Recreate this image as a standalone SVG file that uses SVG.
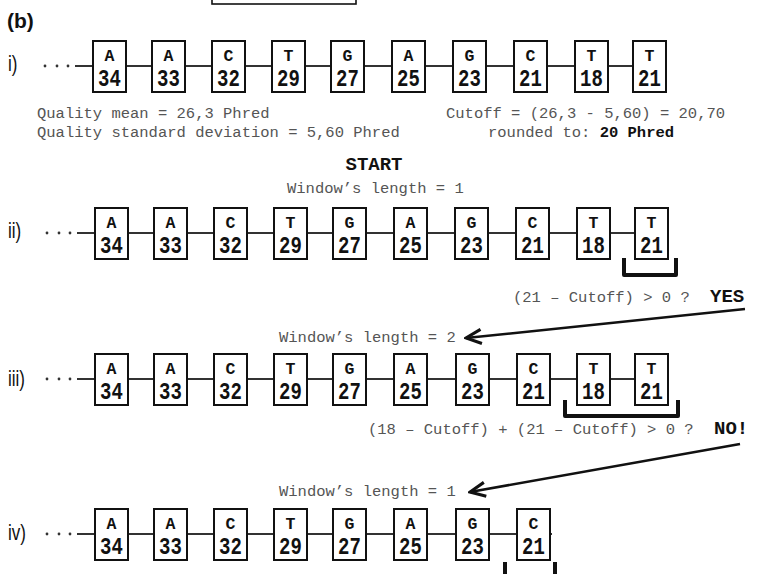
<svg xmlns="http://www.w3.org/2000/svg" width="757" height="574" viewBox="0 0 757 574">
<style>
.bg{fill:#fff}
.box rect{fill:#fff;stroke:#111;stroke-width:2}
.l{font-family:"Liberation Mono","Courier New",monospace;font-weight:bold;font-size:16.5px;fill:#111;text-anchor:middle}
.n{font-family:"Liberation Mono","Courier New",monospace;font-weight:bold;font-size:19px;fill:#111;text-anchor:middle}
.lab{font-family:"Liberation Sans",Arial,sans-serif;font-size:17px;fill:#111}
.m{font-family:"Liberation Mono","Courier New",monospace;font-size:15.5px;fill:#555;white-space:pre}
.mb{font-family:"Liberation Mono","Courier New",monospace;font-size:15.5px;font-weight:bold;fill:#111}
.big{font-family:"Liberation Mono","Courier New",monospace;font-size:19px;font-weight:bold;fill:#111}
.seq{stroke:#333;stroke-width:2.2;fill:none}
.dot{fill:#333}
.arr{stroke:#111;stroke-width:2.5;fill:none;marker-end:url(#chev)}
.brk{stroke:#111;stroke-width:4;fill:none;stroke-linejoin:round}
</style>
<defs>
<marker id="chev" markerUnits="userSpaceOnUse" markerWidth="20" markerHeight="20" viewBox="-15 -8 17 16" refX="0" refY="0" orient="auto">
<path d="M-13,-6 L0,0 L-13,6" fill="none" stroke="#111" stroke-width="2.6" stroke-linejoin="miter"/>
</marker>
</defs>
<rect class="bg" x="0" y="0" width="757" height="574"/>

<g id="topbox"><rect x="212" y="-10" width="144" height="14" fill="#fff" stroke="#111" stroke-width="1.6"/></g>
<text id="panel" x="7" y="28" font-family="'Liberation Sans',Arial,sans-serif" font-size="21" font-weight="bold" fill="#111">(b)</text>

<g id="labels">
<text class="lab" transform="translate(8,71) scale(1,1.3)">i)</text>
<text class="lab" transform="translate(8,238) scale(1,1.3)">ii)</text>
<text class="lab" transform="translate(8,386) scale(1,1.3)">iii)</text>
<text class="lab" transform="translate(8,540) scale(1,1.3)">iv)</text>
</g>

<g id="connectors">
<line class="seq" x1="75" y1="66" x2="660" y2="66"/>
<line class="seq" x1="77" y1="233" x2="662" y2="233"/>
<line class="seq" x1="77" y1="379" x2="662" y2="379"/>
<line class="seq" x1="77" y1="534" x2="552" y2="534"/>
<g class="dot">
<circle cx="45" cy="66" r="1.4"/><circle cx="57" cy="66" r="1.4"/><circle cx="68" cy="66" r="1.4"/>
<circle cx="47" cy="233" r="1.4"/><circle cx="59" cy="233" r="1.4"/><circle cx="70" cy="233" r="1.4"/>
<circle cx="47" cy="379" r="1.4"/><circle cx="59" cy="379" r="1.4"/><circle cx="70" cy="379" r="1.4"/>
<circle cx="47" cy="534" r="1.4"/><circle cx="59" cy="534" r="1.4"/><circle cx="70" cy="534" r="1.4"/>
</g>
<path class="brk" d="M624,258 V275 H676 V258"/>
<path class="brk" d="M565,400 V416 H678 V400"/>
<path class="brk" d="M505,562 V592 H555 V562"/>
<line class="arr" x1="745" y1="309" x2="466" y2="338"/>
<line class="arr" x1="740" y1="444" x2="470" y2="492"/>
</g>

<g id="r1">
<g id="r1n1" class="box" transform="translate(93,41)"><rect width="33" height="51"/><text class="l" x="16.5" y="19.5">A</text><text class="n" transform="translate(16.5,44.5) scale(1,1.22)">34</text></g>
<g id="r1n2" class="box" transform="translate(152,41)"><rect width="33" height="51"/><text class="l" x="16.5" y="19.5">A</text><text class="n" transform="translate(16.5,44.5) scale(1,1.22)">33</text></g>
<g id="r1n3" class="box" transform="translate(212,41)"><rect width="33" height="51"/><text class="l" x="16.5" y="19.5">C</text><text class="n" transform="translate(16.5,44.5) scale(1,1.22)">32</text></g>
<g id="r1n4" class="box" transform="translate(272,41)"><rect width="33" height="51"/><text class="l" x="16.5" y="19.5">T</text><text class="n" transform="translate(16.5,44.5) scale(1,1.22)">29</text></g>
<g id="r1n5" class="box" transform="translate(331,41)"><rect width="33" height="51"/><text class="l" x="16.5" y="19.5">G</text><text class="n" transform="translate(16.5,44.5) scale(1,1.22)">27</text></g>
<g id="r1n6" class="box" transform="translate(392,41)"><rect width="33" height="51"/><text class="l" x="16.5" y="19.5">A</text><text class="n" transform="translate(16.5,44.5) scale(1,1.22)">25</text></g>
<g id="r1n7" class="box" transform="translate(453,41)"><rect width="33" height="51"/><text class="l" x="16.5" y="19.5">G</text><text class="n" transform="translate(16.5,44.5) scale(1,1.22)">23</text></g>
<g id="r1n8" class="box" transform="translate(514,41)"><rect width="33" height="51"/><text class="l" x="16.5" y="19.5">C</text><text class="n" transform="translate(16.5,44.5) scale(1,1.22)">21</text></g>
<g id="r1n9" class="box" transform="translate(575,41)"><rect width="33" height="51"/><text class="l" x="16.5" y="19.5">T</text><text class="n" transform="translate(16.5,44.5) scale(1,1.22)">18</text></g>
<g id="r1n10" class="box" transform="translate(633,41)"><rect width="33" height="51"/><text class="l" x="16.5" y="19.5">T</text><text class="n" transform="translate(16.5,44.5) scale(1,1.22)">21</text></g>
</g>

<g id="stats">
<text class="m" x="37" y="118">Quality mean = 26,3 Phred</text>
<text class="m" x="37" y="137">Quality standard deviation = 5,60 Phred</text>
<text class="m" x="446" y="118">Cutoff = (26,3 - 5,60) = 20,70</text>
<text class="m" x="488" y="137">rounded to: <tspan class="mb">20 Phred</tspan></text>
</g>

<text id="start" class="big" x="374" y="170" text-anchor="middle">START</text>
<text id="w1" class="m" x="287" y="193">Window’s length = 1</text>

<g id="r2">
<g id="r2n1" class="box" transform="translate(95,208)"><rect width="33" height="51"/><text class="l" x="16.5" y="19.5">A</text><text class="n" transform="translate(16.5,44.5) scale(1,1.22)">34</text></g>
<g id="r2n2" class="box" transform="translate(154,208)"><rect width="33" height="51"/><text class="l" x="16.5" y="19.5">A</text><text class="n" transform="translate(16.5,44.5) scale(1,1.22)">33</text></g>
<g id="r2n3" class="box" transform="translate(214,208)"><rect width="33" height="51"/><text class="l" x="16.5" y="19.5">C</text><text class="n" transform="translate(16.5,44.5) scale(1,1.22)">32</text></g>
<g id="r2n4" class="box" transform="translate(274,208)"><rect width="33" height="51"/><text class="l" x="16.5" y="19.5">T</text><text class="n" transform="translate(16.5,44.5) scale(1,1.22)">29</text></g>
<g id="r2n5" class="box" transform="translate(333,208)"><rect width="33" height="51"/><text class="l" x="16.5" y="19.5">G</text><text class="n" transform="translate(16.5,44.5) scale(1,1.22)">27</text></g>
<g id="r2n6" class="box" transform="translate(394,208)"><rect width="33" height="51"/><text class="l" x="16.5" y="19.5">A</text><text class="n" transform="translate(16.5,44.5) scale(1,1.22)">25</text></g>
<g id="r2n7" class="box" transform="translate(455,208)"><rect width="33" height="51"/><text class="l" x="16.5" y="19.5">G</text><text class="n" transform="translate(16.5,44.5) scale(1,1.22)">23</text></g>
<g id="r2n8" class="box" transform="translate(516,208)"><rect width="33" height="51"/><text class="l" x="16.5" y="19.5">C</text><text class="n" transform="translate(16.5,44.5) scale(1,1.22)">21</text></g>
<g id="r2n9" class="box" transform="translate(577,208)"><rect width="33" height="51"/><text class="l" x="16.5" y="19.5">T</text><text class="n" transform="translate(16.5,44.5) scale(1,1.22)">18</text></g>
<g id="r2n10" class="box" transform="translate(635,208)"><rect width="33" height="51"/><text class="l" x="16.5" y="19.5">T</text><text class="n" transform="translate(16.5,44.5) scale(1,1.22)">21</text></g>
</g>

<text id="q1" class="m" x="513" y="302">(21 – Cutoff) &gt; 0 ?</text>
<text id="yes" class="big" x="710" y="302">YES</text>
<text id="w2" class="m" x="279" y="342">Window’s length = 2</text>

<g id="r3">
<g id="r3n1" class="box" transform="translate(95,354)"><rect width="33" height="51"/><text class="l" x="16.5" y="19.5">A</text><text class="n" transform="translate(16.5,44.5) scale(1,1.22)">34</text></g>
<g id="r3n2" class="box" transform="translate(154,354)"><rect width="33" height="51"/><text class="l" x="16.5" y="19.5">A</text><text class="n" transform="translate(16.5,44.5) scale(1,1.22)">33</text></g>
<g id="r3n3" class="box" transform="translate(214,354)"><rect width="33" height="51"/><text class="l" x="16.5" y="19.5">C</text><text class="n" transform="translate(16.5,44.5) scale(1,1.22)">32</text></g>
<g id="r3n4" class="box" transform="translate(274,354)"><rect width="33" height="51"/><text class="l" x="16.5" y="19.5">T</text><text class="n" transform="translate(16.5,44.5) scale(1,1.22)">29</text></g>
<g id="r3n5" class="box" transform="translate(333,354)"><rect width="33" height="51"/><text class="l" x="16.5" y="19.5">G</text><text class="n" transform="translate(16.5,44.5) scale(1,1.22)">27</text></g>
<g id="r3n6" class="box" transform="translate(394,354)"><rect width="33" height="51"/><text class="l" x="16.5" y="19.5">A</text><text class="n" transform="translate(16.5,44.5) scale(1,1.22)">25</text></g>
<g id="r3n7" class="box" transform="translate(456,354)"><rect width="33" height="51"/><text class="l" x="16.5" y="19.5">G</text><text class="n" transform="translate(16.5,44.5) scale(1,1.22)">23</text></g>
<g id="r3n8" class="box" transform="translate(517,354)"><rect width="33" height="51"/><text class="l" x="16.5" y="19.5">C</text><text class="n" transform="translate(16.5,44.5) scale(1,1.22)">21</text></g>
<g id="r3n9" class="box" transform="translate(577,354)"><rect width="33" height="51"/><text class="l" x="16.5" y="19.5">T</text><text class="n" transform="translate(16.5,44.5) scale(1,1.22)">18</text></g>
<g id="r3n10" class="box" transform="translate(635,354)"><rect width="33" height="51"/><text class="l" x="16.5" y="19.5">T</text><text class="n" transform="translate(16.5,44.5) scale(1,1.22)">21</text></g>
</g>

<text id="q2" class="m" x="368" y="434">(18 – Cutoff) + (21 – Cutoff) &gt; 0 ?</text>
<text id="no" class="big" x="714" y="434">NO!</text>
<text id="w3" class="m" x="279" y="496">Window’s length = 1</text>

<g id="r4">
<g id="r4n1" class="box" transform="translate(95,509)"><rect width="33" height="51"/><text class="l" x="16.5" y="19.5">A</text><text class="n" transform="translate(16.5,44.5) scale(1,1.22)">34</text></g>
<g id="r4n2" class="box" transform="translate(154,509)"><rect width="33" height="51"/><text class="l" x="16.5" y="19.5">A</text><text class="n" transform="translate(16.5,44.5) scale(1,1.22)">33</text></g>
<g id="r4n3" class="box" transform="translate(214,509)"><rect width="33" height="51"/><text class="l" x="16.5" y="19.5">C</text><text class="n" transform="translate(16.5,44.5) scale(1,1.22)">32</text></g>
<g id="r4n4" class="box" transform="translate(274,509)"><rect width="33" height="51"/><text class="l" x="16.5" y="19.5">T</text><text class="n" transform="translate(16.5,44.5) scale(1,1.22)">29</text></g>
<g id="r4n5" class="box" transform="translate(333,509)"><rect width="33" height="51"/><text class="l" x="16.5" y="19.5">G</text><text class="n" transform="translate(16.5,44.5) scale(1,1.22)">27</text></g>
<g id="r4n6" class="box" transform="translate(394,509)"><rect width="33" height="51"/><text class="l" x="16.5" y="19.5">A</text><text class="n" transform="translate(16.5,44.5) scale(1,1.22)">25</text></g>
<g id="r4n7" class="box" transform="translate(456,509)"><rect width="33" height="51"/><text class="l" x="16.5" y="19.5">G</text><text class="n" transform="translate(16.5,44.5) scale(1,1.22)">23</text></g>
<g id="r4n8" class="box" transform="translate(517,509)"><rect width="33" height="51"/><text class="l" x="16.5" y="19.5">C</text><text class="n" transform="translate(16.5,44.5) scale(1,1.22)">21</text></g>
</g>
</svg>
